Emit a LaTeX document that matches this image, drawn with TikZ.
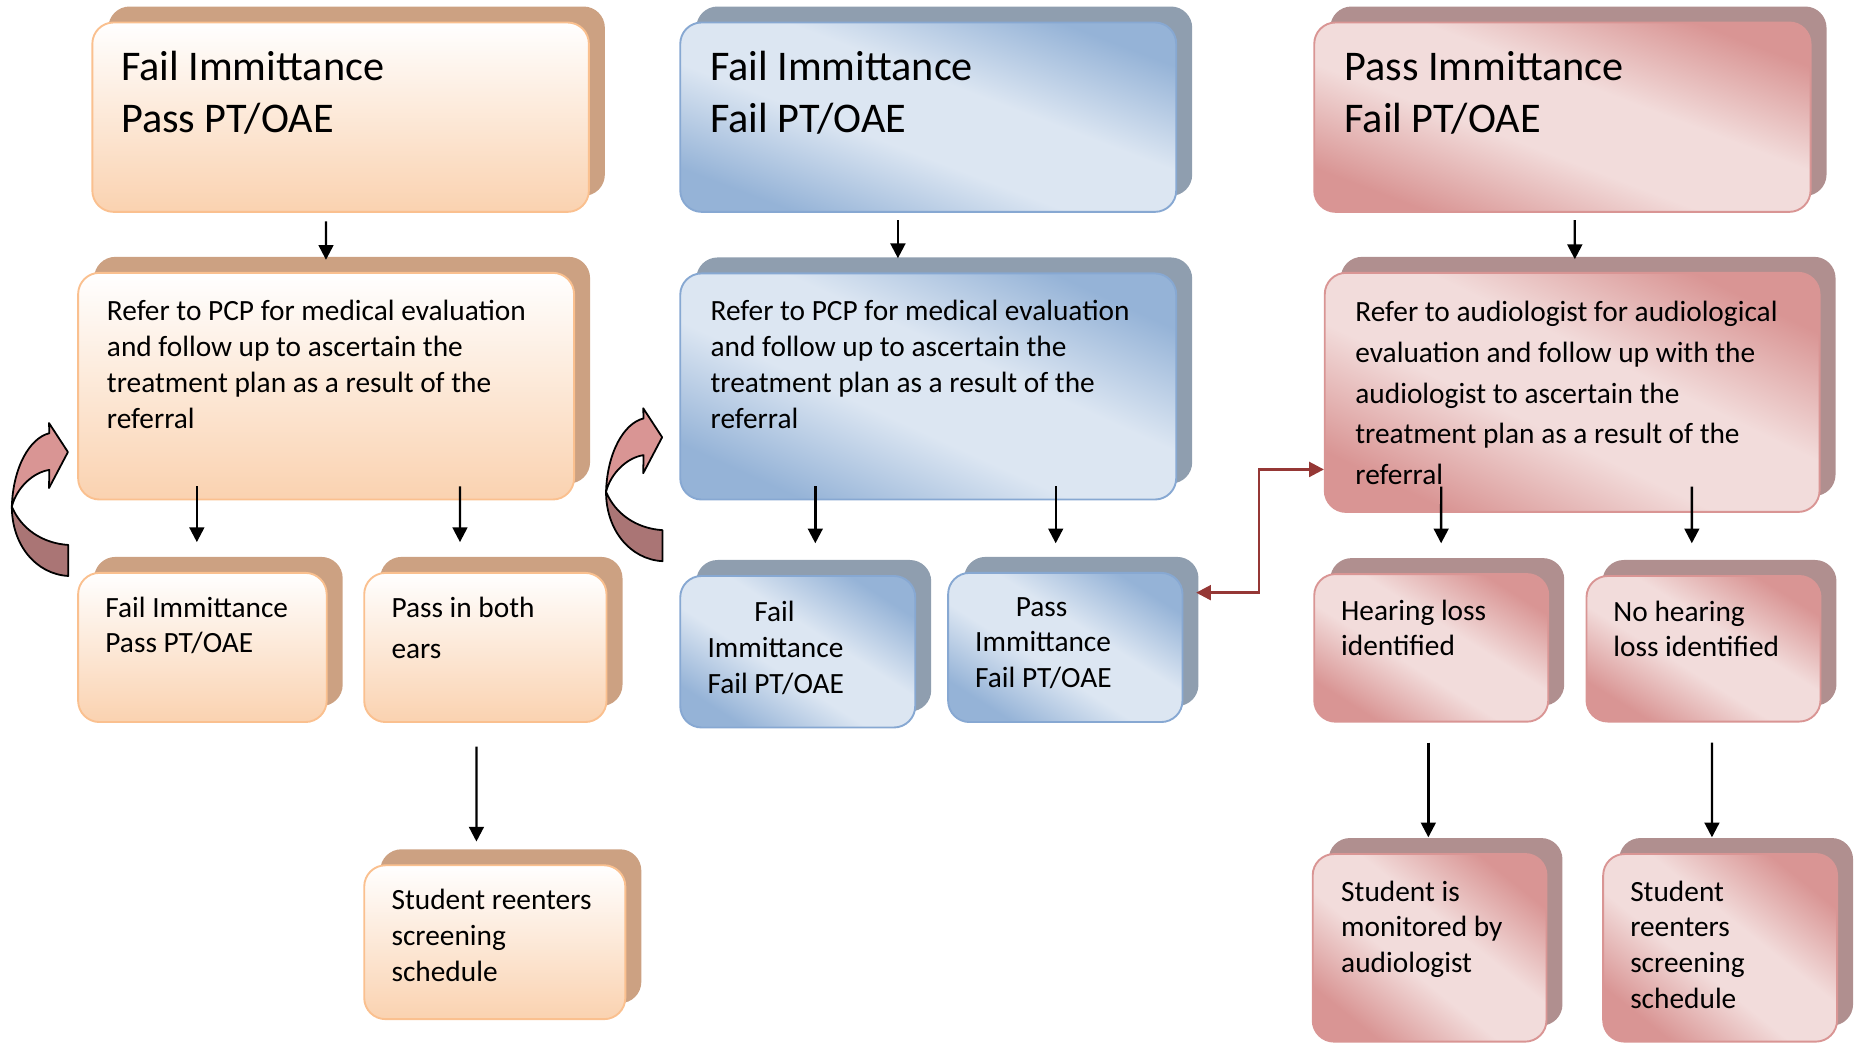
\documentclass[tikz,border=0pt]{standalone}
\usepackage{fontspec}
\setmainfont{Carlito}
\usepackage{tikz}
\usetikzlibrary{arrows.meta,calc}
\definecolor{orshade}{RGB}{204,161,130}
\definecolor{orline}{RGB}{250,192,143}
\definecolor{orfill}{RGB}{250,210,176}
\definecolor{blshade}{RGB}{143,158,175}
\definecolor{blline}{RGB}{135,168,210}
\definecolor{bldark}{RGB}{149,179,215}
\definecolor{bllight}{RGB}{220,230,242}
\definecolor{rdshade}{RGB}{176,143,143}
\definecolor{rdline}{RGB}{217,149,148}
\definecolor{rddark}{RGB}{217,149,148}
\definecolor{rdlight}{RGB}{242,220,219}
\definecolor{loopdark}{RGB}{170,117,117}
\definecolor{looplight}{RGB}{217,149,148}
\definecolor{linkred}{RGB}{149,55,53}
\pgfdeclareverticalshading{bldiag}{100bp}{color(0bp)=(bldark); color(25bp)=(bldark); color(43bp)=(bllight); color(57bp)=(bllight); color(75bp)=(bldark); color(100bp)=(bldark)}
\pgfdeclareverticalshading{rddiag}{100bp}{color(0bp)=(rddark); color(25bp)=(rddark); color(43bp)=(rdlight); color(57bp)=(rdlight); color(75bp)=(rddark); color(100bp)=(rddark)}
\tikzset{every picture/.style={line width=0.75pt}}
\tikzset{
  card/.style={anchor=north west, inner sep=0pt, outer sep=0pt, rounded corners=18pt},
  orshadow/.style={card, fill=orshade},
  blshadow/.style={card, fill=blshade},
  rdshadow/.style={card, fill=rdshade},
  orbox/.style={card, draw=orline, line width=1.6pt, top color=white, bottom color=orfill},
  blbox/.style={card, draw=blline, line width=1.6pt, shade, shading=bldiag},
  rdbox/.style={card, draw=rdline, line width=1.6pt, shade, shading=rddiag},
  ttl/.style={anchor=north west, inner sep=0pt, align=left, font=\fontsize{35.7}{43.6}\selectfont},
  txt/.style={anchor=north west, inner sep=0pt, align=left, font=\fontsize{24.8}{30.4}\selectfont},
  arr/.style={line width=2pt, -{Triangle[width=12.5pt,length=12.5pt]}},
  redlink/.style={draw=linkred, line width=2.3pt, {Triangle[width=12.5pt,length=12.5pt]}-{Triangle[width=12.5pt,length=12.5pt]}},
  lpdark/.style={fill=loopdark, draw=black, line width=1.5pt, line join=round},
  lplight/.style={fill=looplight, draw=black, line width=1.5pt, line join=round}
}

\begin{document}
\begin{tikzpicture}[x=1pt,y=1pt,yscale=-1,xscale=1]
\useasboundingbox (0,0) rectangle (1568,882);
%Rounded Rect [id:A1]
\node [orshadow, minimum width=419.5, minimum height=160] (sA1) at (91.5,5.5) {};
\node [orbox, minimum width=419.5, minimum height=160] (fA1) at (78,19) {};
%Rounded Rect [id:A2]
\node [orshadow, minimum width=419, minimum height=191.5] (sA2) at (79.5,217) {};
\node [orbox, minimum width=419, minimum height=191.5] (fA2) at (66,230.5) {};
%Rounded Rect [id:A3]
\node [orshadow, minimum width=210, minimum height=126] (sA3) at (79.5,470.5) {};
\node [orbox, minimum width=210, minimum height=126] (fA3) at (66,484) {};
%Rounded Rect [id:A4]
\node [orshadow, minimum width=204.7, minimum height=126] (sA4) at (321.2,470.5) {};
\node [orbox, minimum width=204.7, minimum height=126] (fA4) at (307.7,484) {};
%Rounded Rect [id:A5]
\node [orshadow, minimum width=220.6, minimum height=130] (sA5) at (321.2,717.5) {};
\node [orbox, minimum width=220.6, minimum height=130] (fA5) at (307.7,731) {};
%Rounded Rect [id:B1]
\node [blshadow, minimum width=419, minimum height=160] (sB1) at (588.2,5.5) {};
\node [blbox, shading angle=-20.9, minimum width=419, minimum height=160] (fB1) at (574.7,19) {};
%Rounded Rect [id:B2]
\node [blshadow, minimum width=419, minimum height=191] (sB2) at (588.2,217.5) {};
\node [blbox, shading angle=-24.5, minimum width=419, minimum height=191] (fB2) at (574.7,231) {};
%Rounded Rect [id:B3]
\node [blshadow, minimum width=198.5, minimum height=128] (sB3) at (588.2,473.1) {};
\node [blbox, shading angle=-32.8, minimum width=198.5, minimum height=128] (fB3) at (574.7,486.6) {};
%Rounded Rect [id:B4]
\node [blshadow, minimum width=198, minimum height=126] (sB4) at (814.5,470.5) {};
\node [blbox, shading angle=-32.5, minimum width=198, minimum height=126] (fB4) at (801,484) {};
%Rounded Rect [id:C1]
\node [rdshadow, minimum width=419.3, minimum height=160] (sC1) at (1123.8,5.5) {};
\node [rdbox, shading angle=-20.9, minimum width=419.3, minimum height=160] (fC1) at (1110.3,19) {};
%Rounded Rect [id:C2]
\node [rdshadow, minimum width=418, minimum height=202] (sC2) at (1132.7,217) {};
\node [rdbox, shading angle=-25.8, minimum width=418, minimum height=202] (fC2) at (1119.2,230.5) {};
%Rounded Rect [id:C3]
\node [rdshadow, minimum width=197.7, minimum height=124.7] (sC3) at (1123.8,471.5) {};
\node [rdbox, shading angle=-32.2, minimum width=197.7, minimum height=124.7] (fC3) at (1110.3,485) {};
%Rounded Rect [id:C4]
\node [rdshadow, minimum width=197.7, minimum height=123] (sC4) at (1353.8,473.1) {};
\node [rdbox, shading angle=-31.9, minimum width=197.7, minimum height=123] (fC4) at (1340.3,486.6) {};
%Rounded Rect [id:C5]
\node [rdshadow, minimum width=197.5, minimum height=158.5] (sC5) at (1122.5,708) {};
\node [rdbox, shading angle=-38.7, minimum width=197.5, minimum height=158.5] (fC5) at (1109,721.5) {};
%Rounded Rect [id:C6]
\node [rdshadow, minimum width=197.6, minimum height=158.5] (sC6) at (1367.9,708) {};
\node [rdbox, shading angle=-38.7, minimum width=197.6, minimum height=158.5] (fC6) at (1354.4,721.5) {};

% Text Nodes
\node [ttl] (tA1) at (102,43) {Fail Immittance\\Pass PT/OAE};
\node [ttl] (tB1) at (599.5,43) {Fail Immittance\\Fail PT/OAE};
\node [ttl] (tC1) at (1135.5,43) {Pass Immittance\\Fail PT/OAE};
\node [txt] (tA2) at (90,253.1) {Refer to PCP for medical evaluation\\and follow up to ascertain the\\treatment plan as a result of the\\referral};
\node [txt] (tB2) at (600,253.2) {Refer to PCP for medical evaluation\\and follow up to ascertain the\\treatment plan as a result of the\\referral};
\node [txt, font=\fontsize{24.8}{34.4}\selectfont] (tC2) at (1144.7,254.2) {Refer to audiologist for audiological\\evaluation and follow up with the\\audiologist to ascertain the\\treatment plan as a result of the\\referral};
\node [txt, font=\fontsize{24.8}{30}\selectfont] (tA3) at (88.7,503.8) {Fail Immittance\\Pass PT/OAE};
\node [txt, font=\fontsize{24.8}{35}\selectfont] (tA4) at (330.4,503.8) {Pass in both\\ears};
\node [txt] (tA5) at (330.4,750.9) {Student reenters\\screening\\schedule};
\node [txt] (tB3) at (597.4,507.1) {\hspace*{39.6pt}Fail\\Immittance\\Fail PT/OAE};
\node [txt, font=\fontsize{24.8}{30.2}\selectfont] (tB4) at (823.5,504.3) {\hspace*{34.3pt}Pass\\Immittance\\Fail PT/OAE};
\node [txt, font=\fontsize{24.8}{29.6}\selectfont] (tC3) at (1132.7,506.3) {Hearing loss\\identified};
\node [txt, font=\fontsize{24.8}{29.6}\selectfont] (tC4) at (1362.7,507.7) {No hearing\\loss identified};
\node [txt, font=\fontsize{24.8}{30.3}\selectfont] (tC5) at (1132.7,743.7) {Student is\\monitored by\\audiologist};
\node [txt, font=\fontsize{24.8}{30.3}\selectfont] (tC6) at (1376.9,743.7) {Student\\reenters\\screening\\schedule};

%Straight Lines [id:arrows]
\draw [arr] ($(fA1.south)+(-12.3,8)$) -- ($(sA2.north)+(-13.6,2.5)$);
\draw [arr] ($(fA2.south)+(-109.2,-11)$) -- ($(sA3.north)+(-18.2,-12.5)$);
\draw [arr] ($(fA2.south)+(113.1,-11)$) -- ($(sA4.north)+(-34.95,-12.5)$);
\draw [arr] ($(fA4.south)+(-7.55,20.8)$) -- ($(sA5.north)+(-29,-6.5)$);
\draw [arr] ($(fB1.south)+(-25.6,7)$) -- ($(sB2.north)+(-39.1,0.7)$);
\draw [arr] ($(fB2.south)+(-95.4,-11)$) -- ($(sB3.north)+(1.35,-14.1)$);
\draw [arr] ($(fB2.south)+(107.7,-11)$) -- ($(sB4.north)+(-21.6,-11.5)$);
\draw [arr] ($(fC1.south)+(10.45,7)$) -- ($(sC2.north)+(-11.25,2)$);
\draw [arr] ($(fC2.south)+(-110.65,-21.3)$) -- ($(sC3.north)+(-5.15,-12.5)$);
\draw [arr] ($(fC2.south)+(101.15,-21.3)$) -- ($(sC4.north)+(-23.35,-14.1)$);
\draw [arr] ($(fC3.south)+(-2.45,17.7)$) -- ($(sC5.north)+(-14.55,-0.6)$);
\draw [arr] ($(fC4.south)+(7.15,17.7)$) -- ($(sC6.north)+(-20.4,-0.6)$);
%Elbow Connector [id:redlink]
\draw [redlink] ($(sB4.east)+(-2,-32.8)$) -- ++(53.2,0) |- ($(fC2.west)+(-0.7,65.1)$);

%Curved Arrows [id:loops]
\begin{scope}
\draw [lpdark] (10,428) .. controls (10,460) and (30,485) .. (57.7,486.6) -- (57.7,460.4) .. controls (36,459) and (18,447) .. (10,428) -- cycle;
\draw [lplight] (41.7,366) .. controls (25,370) and (11,395) .. (10,428) .. controls (14,412) and (28,399) .. (41.7,397) -- (41.4,412.3) -- (57.4,381.9) -- (41.4,357.4) -- cycle;
\end{scope}
\begin{scope}[shift={(502,-12.5)}]
\draw [lpdark] (10,428) .. controls (10,460) and (30,485) .. (57.7,486.6) -- (57.7,460.4) .. controls (36,459) and (18,447) .. (10,428) -- cycle;
\draw [lplight] (41.7,366) .. controls (25,370) and (11,395) .. (10,428) .. controls (14,412) and (28,399) .. (41.7,397) -- (41.4,412.3) -- (57.4,381.9) -- (41.4,357.4) -- cycle;
\end{scope}
\end{tikzpicture}
\end{document}
